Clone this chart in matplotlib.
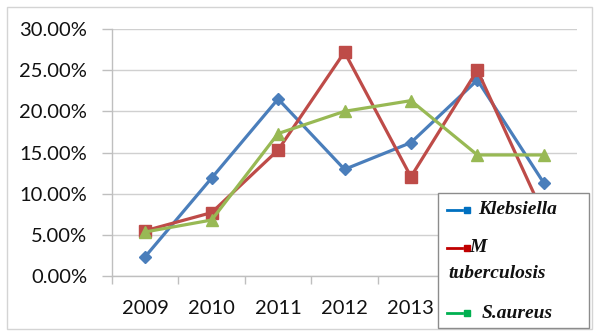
import matplotlib
matplotlib.use("Agg")
import matplotlib.pyplot as plt
from matplotlib.patches import Rectangle
from matplotlib.lines import Line2D
from matplotlib.ticker import FuncFormatter

# Data
years = ["2009", "2010", "2011", "2012", "2013", "2014", "2015"]
klebsiella = [2.35, 11.9, 21.5, 12.95, 16.2, 23.8, 11.3]
m_tuberculosis = [5.5, 7.7, 15.3, 27.2, 12.05, 25.0, 7.4]
s_aureus = [5.35, 6.8, 17.3, 20.0, 21.3, 14.7, 14.7]
series_names = ["Klebsiella", "M\ntuberculosis", "S.aureus"]
y_ticks = [0, 5, 10, 15, 20, 25, 30]

W, H = 600, 336
fig = plt.figure(figsize=(W / 100, H / 100), dpi=100)
fig.patch.set_facecolor("white")

tick_font = "Lato"
legend_font = "Liberation Serif"

ax = fig.add_axes([112 / W, 60 / H, (577 - 112) / W, (276 - 29) / H])
x = list(range(len(years)))

line_colors = ["#4a7ebb", "#be4b48", "#98b954"]
markers = ["D", "s", "^"]
msizes = [6.5, 8, 8]
for vals, c, m, ms in zip([klebsiella, m_tuberculosis, s_aureus], line_colors, markers, msizes):
    ax.plot(x, vals, color=c, lw=2.3, marker=m, markersize=ms,
            markerfacecolor=c, markeredgecolor=c, zorder=3, clip_on=False)

ax.set_xlim(-0.5, len(years) - 0.5)
ax.set_ylim(0, 30)
ax.set_yticks(y_ticks)
ax.yaxis.set_major_formatter(FuncFormatter(lambda v, p: f"{v:.2f}%"))
ax.grid(axis="y", color="#d0d0d0", lw=1)
ax.set_axisbelow(True)

for s in ["top", "right"]:
    ax.spines[s].set_visible(False)
for s in ["left", "bottom"]:
    ax.spines[s].set_color("#bfbfbf")
    ax.spines[s].set_linewidth(1)

ax.set_xticks(x)
ax.set_xticklabels(years)
ax.set_xticks([i - 0.5 for i in range(len(years) + 1)], minor=True)
ax.tick_params(axis="x", which="major", length=0, pad=17,
               labelsize=14.5, labelcolor="#111111")
ax.tick_params(axis="x", which="minor", length=6, color="#bfbfbf", width=1)
ax.tick_params(axis="y", length=7, color="#bfbfbf", width=1, pad=11,
               labelsize=14.5, labelcolor="#111111")
for lab in ax.get_xticklabels() + ax.get_yticklabels():
    lab.set_fontfamily(tick_font)
# the last two year labels sit underneath the legend box
for lab in ax.get_xticklabels()[5:]:
    lab.set_visible(False)

# Overlay in pixel coordinates for the frame and legend box
ov = fig.add_axes([0, 0, 1, 1], zorder=10)
ov.set_xlim(0, W)
ov.set_ylim(H, 0)
ov.axis("off")
ov.patch.set_alpha(0)

ov.add_patch(Rectangle((7, 7), 585, 322, fill=False, ec="#d4d4d4", lw=1))
ov.add_patch(Rectangle((438, 193), 151, 135, fc="white", ec="#8c8c8c", lw=1))

legend_colors = ["#0070c0", "#c00000", "#00b050"]
entries = [
    (210, 478, series_names[0]),
    (248, 469, series_names[1]),
    (313, 482, series_names[2]),
]
for (yy, tx, name), c in zip(entries, legend_colors):
    ov.add_line(Line2D([447, 462], [yy, yy], color=c, lw=2))
    ov.add_line(Line2D([467], [yy], color=c, marker="s", markersize=5,
                       markerfacecolor=c, markeredgecolor=c))
    text_kw = dict(fontfamily=legend_font, fontweight="bold", fontstyle="italic",
                   fontsize=14, color="#111111", va="center", ha="left")
    if "\n" in name:
        first, second = name.split("\n")
        ov.text(tx, yy, first, **text_kw)
        ov.text(448, yy + 25, second, **text_kw)
    else:
        ov.text(tx, yy, name, **text_kw)

fig.savefig("out.png", dpi=100, facecolor="white")
